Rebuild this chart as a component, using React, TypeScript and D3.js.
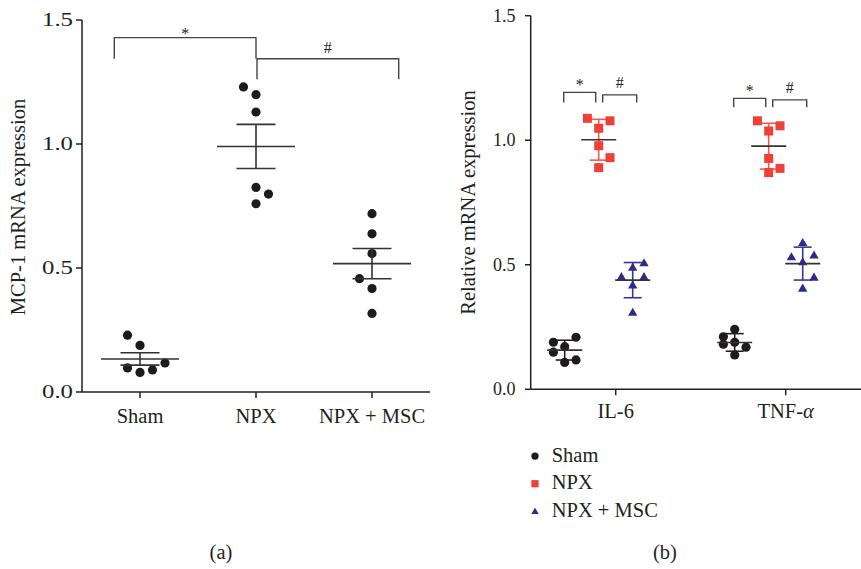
import React from "react";
import * as d3 from "d3";

// ---------- Panel (a): MCP-1 ----------
const groupsA = ["Sham", "NPX", "NPX + MSC"];
const shamA = [0.229, 0.188, 0.097, 0.079, 0.089, 0.117];
const shamASlot = [-1, 0, -1, 0, 1, 2];
const npxA = [1.23, 1.199, 1.129, 0.825, 0.798, 0.759];
const npxASlot = [-1, 0, 0, 0, 1, 0];
const mscA = [0.719, 0.638, 0.558, 0.457, 0.417, 0.317];
const mscASlot = [0, 0, 0, -1, 0, 0];
const sigA = ["*", "#"];
const sigATop = [1.429, 1.344];
const sigABottom = [1.344, 1.261];

// ---------- Panel (b): IL-6 / TNF-α ----------
const genes = ["IL-6", "TNF-α"];
const seriesB = ["Sham", "NPX", "NPX + MSC"];
const il6Sham = [0.189, 0.209, 0.171, 0.149, 0.108, 0.118];
const il6ShamSlot = [-1, 1, 0, -1, 0, 1];
const tnfSham = [0.241, 0.211, 0.189, 0.181, 0.169, 0.138];
const tnfShamSlot = [0, -1, 0, -1, 1, 0];
const il6Npx = [1.088, 1.078, 1.048, 0.978, 0.93, 0.89];
const il6NpxSlot = [-1, 1, 0, 0, 1, 0];
const tnfNpx = [1.078, 1.058, 1.037, 0.927, 0.887, 0.87];
const tnfNpxSlot = [-1, 1, 0, 0, 1, 0];
const il6Msc = [0.508, 0.49, 0.452, 0.452, 0.419, 0.309];
const il6MscSlot = [1, 0, -1, 1, 0, 0];
const tnfMsc = [0.589, 0.532, 0.539, 0.512, 0.45, 0.406];
const tnfMscSlot = [0, -1, 1, 0, 1, 0];
const sigB = ["*", "#"];
const sigBTopLeft = [1.192, 1.168];
const sigBTopRight = [1.182, 1.162];
const sigBBottom = [1.151, 1.132];

const yTicks = [0, 0.5, 1.0, 1.5];

const FONT = "'Liberation Serif', 'Times New Roman', serif";
const TEXT = "#231f20";
const AXIS = "#231f20";
const MEAN = "#333333";
const fillB: Record<string, string> = { Sham: "#1f1b1c", NPX: "#EE4036", "NPX + MSC": "#2E2B8C" };
const barB: Record<string, string> = { Sham: "#231f20", NPX: "#F15A4E", "NPX + MSC": "#3A3693" };

const fmt = d3.format(".1f");

export default function App() {
  const W = 861;
  const H = 569;

  // scales panel a
  const xA = d3.scaleBand<string>().domain(groupsA).range([82, 430]);
  const yA = d3.scaleLinear().domain([0, 1.5]).range([392, 20]);
  const slotA = 12.5;
  const cA = (g: string) => (xA(g) as number) + xA.bandwidth() / 2;

  const dataA = [
    { name: groupsA[0], values: shamA, slots: shamASlot },
    { name: groupsA[1], values: npxA, slots: npxASlot },
    { name: groupsA[2], values: mscA, slots: mscASlot },
  ];

  // scales panel b
  const xB = d3.scaleBand<string>().domain(genes).range([530.7, 870.7]);
  const xB1 = d3.scaleBand<string>().domain([...seriesB, "_"]).range([-68, 68]);
  const yB = d3.scaleLinear().domain([0, 1.5]).range([389.3, 15.7]);
  const slotB = 11.3;
  const cB = (gene: string, s: string) =>
    (xB(gene) as number) + xB.bandwidth() / 2 + (xB1(s) as number) + xB1.bandwidth() / 2;
  const tickB = (gene: string) => (xB(gene) as number) + xB.bandwidth() / 2;

  const dataB = [
    { gene: genes[0], series: "Sham", values: il6Sham, slots: il6ShamSlot },
    { gene: genes[0], series: "NPX", values: il6Npx, slots: il6NpxSlot },
    { gene: genes[0], series: "NPX + MSC", values: il6Msc, slots: il6MscSlot },
    { gene: genes[1], series: "Sham", values: tnfSham, slots: tnfShamSlot },
    { gene: genes[1], series: "NPX", values: tnfNpx, slots: tnfNpxSlot },
    { gene: genes[1], series: "NPX + MSC", values: tnfMsc, slots: tnfMscSlot },
  ];

  const tri = (size: number) => d3.symbol(d3.symbolTriangle, size)() as string;

  const marker = (series: string, x: number, y: number, key: string | number, scale = 1) => {
    if (series === "Sham")
      return <circle key={key} cx={x} cy={y} r={4.6 * scale} fill={fillB.Sham} />;
    if (series === "NPX") {
      const s = 9 * scale;
      return <rect key={key} x={x - s / 2} y={y - s / 2} width={s} height={s} fill={fillB.NPX} />;
    }
    return (
      <path key={key} d={tri(38 * scale * scale)} transform={`translate(${x},${y + 0.8 * scale})`} fill={fillB["NPX + MSC"]} />
    );
  };

  return (
    <svg
      width={W}
      height={H}
      style={{ position: "absolute", left: 0, top: 0, background: "#fff" }}
      fontFamily={FONT}
    >
      <rect width={W} height={H} fill="#fff" />

      {/* ================= Panel (a) ================= */}
      <g>
        {/* y axis */}
        <line x1={82} x2={82} y1={yA(1.5)} y2={yA(0)} stroke={AXIS} strokeWidth={1.5} />
        {yTicks.map((t) => (
          <g key={t}>
            <line x1={76} x2={82} y1={yA(t)} y2={yA(t)} stroke={AXIS} strokeWidth={1.5} />
            <text
              x={42}
              y={yA(t) + 6}
              fontSize={18}
              fill={TEXT}
              textLength={31}
              lengthAdjust="spacingAndGlyphs"
            >
              {fmt(t)}
            </text>
          </g>
        ))}
        {/* x axis */}
        <line x1={82} x2={430} y1={yA(0)} y2={yA(0)} stroke={AXIS} strokeWidth={1.5} />
        {groupsA.map((g) => (
          <g key={g}>
            <line x1={cA(g)} x2={cA(g)} y1={yA(0)} y2={yA(0) + 6} stroke={AXIS} strokeWidth={1.5} />
            <text x={cA(g)} y={423} fontSize={20.5} textAnchor="middle" fill={TEXT}>
              {g}
            </text>
          </g>
        ))}
        <text
          transform={`translate(25,207) rotate(-90)`}
          fontSize={20.5}
          textAnchor="middle"
          fill={TEXT}
        >
          MCP-1 mRNA expression
        </text>

        {/* points and mean ± SEM */}
        {dataA.map((d) => {
          const m = d3.mean(d.values) as number;
          const sem = (d3.deviation(d.values) as number) / Math.sqrt(d.values.length);
          const cx = cA(d.name);
          return (
            <g key={d.name}>
              {d.values.map((v, i) => (
                <circle key={i} cx={cx + d.slots[i] * slotA} cy={yA(v)} r={4.6} fill="#1f1b1c" />
              ))}
              <line x1={cx - 39} x2={cx + 39} y1={yA(m)} y2={yA(m)} stroke={MEAN} strokeWidth={1.6} />
              <line x1={cx} x2={cx} y1={yA(m + sem)} y2={yA(m - sem)} stroke={MEAN} strokeWidth={1.6} />
              <line x1={cx - 19.5} x2={cx + 19.5} y1={yA(m + sem)} y2={yA(m + sem)} stroke={MEAN} strokeWidth={1.6} />
              <line x1={cx - 19.5} x2={cx + 19.5} y1={yA(m - sem)} y2={yA(m - sem)} stroke={MEAN} strokeWidth={1.6} />
            </g>
          );
        })}

        {/* significance brackets */}
        {sigA.map((s, i) => {
          const x1 = cA(groupsA[i]) + (i === 0 ? -25.7 : 1);
          const x2 = cA(groupsA[i + 1]) + (i === 0 ? 0 : 26.7);
          const top = yA(sigATop[i]);
          const bot = yA(sigABottom[i]);
          return (
            <g key={s}>
              <path
                d={`M${x1},${bot}V${top}H${x2}V${bot}`}
                fill="none"
                stroke="#444"
                strokeWidth={1.4}
              />
              <text x={(x1 + x2) / 2} y={top - (s === "*" ? -1 : 6)} fontSize={16} textAnchor="middle" fill={TEXT}>
                {s}
              </text>
            </g>
          );
        })}

        <text x={221} y={559} fontSize={20.5} textAnchor="middle" fill={TEXT}>
          (a)
        </text>
      </g>

      {/* ================= Panel (b) ================= */}
      <g>
        <line x1={530.7} x2={530.7} y1={yB(1.5)} y2={yB(0)} stroke={AXIS} strokeWidth={1.5} />
        {yTicks.map((t) => (
          <g key={t}>
            <line x1={525} x2={530.7} y1={yB(t)} y2={yB(t)} stroke={AXIS} strokeWidth={1.5} />
            <text x={515.5} y={yB(t) + 6} fontSize={18} textAnchor="end" fill={TEXT}>
              {fmt(t)}
            </text>
          </g>
        ))}
        <line x1={530.7} x2={870.7} y1={yB(0)} y2={yB(0)} stroke={AXIS} strokeWidth={1.5} />
        {genes.map((g) => (
          <g key={g}>
            <line x1={tickB(g)} x2={tickB(g)} y1={yB(0)} y2={yB(0) + 6} stroke={AXIS} strokeWidth={1.5} />
            <text x={tickB(g)} y={418.3} fontSize={20.5} textAnchor="middle" fill={TEXT}>
              {g.startsWith("TNF") ? (
                <>
                  <tspan>TNF-</tspan>
                  <tspan fontStyle="italic">α</tspan>
                </>
              ) : (
                g
              )}
            </text>
          </g>
        ))}
        <text
          transform={`translate(475,202.5) rotate(-90)`}
          fontSize={20.5}
          textAnchor="middle"
          fill={TEXT}
        >
          Relative mRNA expression
        </text>

        {dataB.map((d, k) => {
          const m = d3.mean(d.values) as number;
          const sd = d3.deviation(d.values) as number;
          const cx = cB(d.gene, d.series);
          const col = barB[d.series];
          return (
            <g key={k}>
              <line x1={cx} x2={cx} y1={yB(m + sd)} y2={yB(m - sd)} stroke={col} strokeWidth={1.6} />
              <line x1={cx - 9} x2={cx + 9} y1={yB(m + sd)} y2={yB(m + sd)} stroke={col} strokeWidth={1.6} />
              <line x1={cx - 9} x2={cx + 9} y1={yB(m - sd)} y2={yB(m - sd)} stroke={col} strokeWidth={1.6} />
              {d.values.map((v, i) => marker(d.series, cx + d.slots[i] * slotB, yB(v), i))}
              <line x1={cx - 17.5} x2={cx + 17.5} y1={yB(m)} y2={yB(m)} stroke={MEAN} strokeWidth={1.6} />
            </g>
          );
        })}

        {genes.map((g, gi) =>
          sigB.map((s, i) => {
            const x1 = i === 0 ? cB(g, "Sham") - 1 : cB(g, "NPX") + 4;
            const x2 = i === 0 ? cB(g, "NPX") - 3 : cB(g, "NPX + MSC") + 4;
            const top = yB(i === 0 ? sigBTopLeft[gi] : sigBTopRight[gi]);
            const bot = yB(sigBBottom[gi]);
            return (
              <g key={`${g}-${s}`}>
                <path d={`M${x1},${bot}V${top}H${x2}V${bot}`} fill="none" stroke="#444" strokeWidth={1.4} />
                <text x={(x1 + x2) / 2} y={top - (s === "*" ? 2 : 7)} fontSize={16} textAnchor="middle" fill={TEXT}>
                  {s}
                </text>
              </g>
            );
          })
        )}

        {/* legend */}
        {seriesB.map((s, i) => {
          const y = 461.6 + i * 27.6;
          return (
            <g key={s}>
              {marker(s, 535, y - 5.5, "m", 0.8)}
              <text x={551.7} y={y} fontSize={20.5} fill={TEXT}>
                {s}
              </text>
            </g>
          );
        })}

        <text x={665} y={559} fontSize={20.5} textAnchor="middle" fill={TEXT}>
          (b)
        </text>
      </g>
    </svg>
  );
}
